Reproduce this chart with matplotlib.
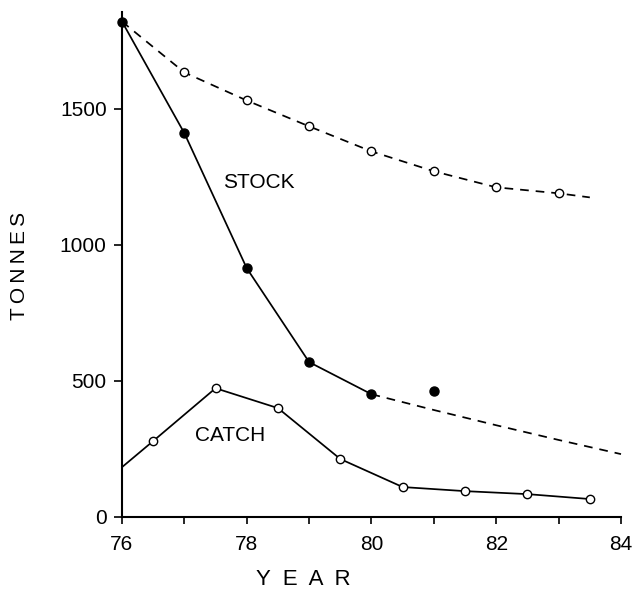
import matplotlib
matplotlib.use("Agg")
import matplotlib.pyplot as plt

plt.rcParams['font.family'] = ['Liberation Sans', 'DejaVu Sans']

# Observed stock (filled circles, solid line)
stock_years = [76, 77, 78, 79, 80]
stock_values = [1820, 1410, 914, 569, 451]

# Isolated stock estimate
extra_year = [81]
extra_value = [462]

# Projected stock after 1980 (dashed, no markers)
proj_years = [80, 81, 82, 83, 84]
proj_values = [451, 393, 337, 283, 231]

# Unexploited stock trajectory (dashed, open circles)
unfished_years = [76, 77, 78, 79, 80, 81, 82, 83, 83.5]
unfished_values = [1820, 1633, 1530, 1435, 1343, 1270, 1211, 1189, 1174]

# Catch (open circles, solid line)
catch_years = [76, 76.5, 77.5, 78.5, 79.5, 80.5, 81.5, 82.5, 83.5]
catch_values = [183, 279, 473, 400, 213, 110, 95, 84, 66]

x_ticks = [76, 77, 78, 79, 80, 81, 82, 83, 84]
x_ticklabels = ['76', '', '78', '', '80', '', '82', '', '84']
y_ticks = [0, 500, 1000, 1500]
y_ticklabels = ['0', '500', '1000', '1500']

fig = plt.figure(figsize=(6.37, 5.92), dpi=100)
ax = fig.add_axes([0.1915, 0.1267, 0.7834, 0.853])

lw = 1.25
open_kw = dict(marker='o', markersize=6, markerfacecolor='white',
               markeredgecolor='black', markeredgewidth=1.0)

# unexploited trajectory
ax.plot(unfished_years, unfished_values, color='black', lw=lw,
        dashes=(5, 4), markevery=list(range(1, 8)), zorder=2,
        clip_on=False, **open_kw)

# projected stock
ax.plot(proj_years, proj_values, color='black', lw=lw, dashes=(5, 4),
        zorder=2, clip_on=False)

# observed stock
ax.plot(stock_years, stock_values, color='black', lw=lw, marker='o',
        markersize=6.5, markerfacecolor='black', markeredgecolor='black',
        zorder=3, clip_on=False)
ax.plot(extra_year, extra_value, linestyle='none', marker='o',
        markersize=6.5, color='black', zorder=3)

# catch
ax.plot(catch_years, catch_values, color='black', lw=lw,
        markevery=list(range(1, len(catch_years))), zorder=3, **open_kw)

ax.text(78.2, 1229, 'STOCK', fontsize=15, ha='center', va='center')
ax.text(77.73, 301, 'CATCH', fontsize=15, ha='center', va='center')

ax.set_xlim(76, 84)
ax.set_ylim(0, 1855)
ax.set_xticks(x_ticks)
ax.set_xticklabels(x_ticklabels)
ax.set_yticks(y_ticks)
ax.set_yticklabels(y_ticklabels)

for side in ('top', 'right'):
    ax.spines[side].set_visible(False)
for side in ('left', 'bottom'):
    ax.spines[side].set_linewidth(1.5)

ax.tick_params(axis='x', direction='out', length=5, width=1.2,
               pad=8, labelsize=15)
ax.tick_params(axis='y', direction='out', length=6, width=1.2,
               pad=5, labelsize=15)

fig.text(0.0306, 0.5515, 'T\u2009O\u2009N\u2009N\u2009E\u2009S', rotation=90,
         fontsize=15, ha='center', va='center')
fig.text(0.4765, 0.0203, 'Y  E  A  R', fontsize=16, ha='center', va='center')

fig.savefig('out.png', dpi=100)
